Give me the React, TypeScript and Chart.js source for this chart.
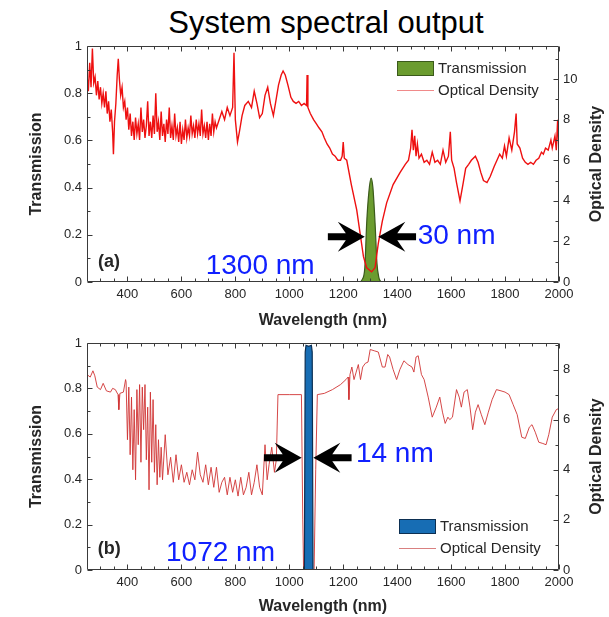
import React, { useEffect, useRef } from 'react';
import { Chart, registerables } from 'chart.js';

Chart.register(...registerables);

const FONT = "'Liberation Sans', Arial, Helvetica, sans-serif";
const AXIS_COLOR = '#3a3a3a';
const TEXT_COLOR = '#262626';

// ---------- shared ticks ----------
const xTicks = [400, 600, 800, 1000, 1200, 1400, 1600, 1800, 2000];
const xMinorTicks = [300, 350, 450, 500, 550, 650, 700, 750, 850, 900, 950, 1050, 1100, 1150, 1250, 1300, 1350, 1450, 1500, 1550, 1650, 1700, 1750, 1850, 1900, 1950];
const transTicks = [0, 0.2, 0.4, 0.6, 0.8, 1];
const transMinorTicks = [0.1, 0.3, 0.5, 0.7, 0.9];
const odTicksA = [0, 2, 4, 6, 8, 10];
const odMinorTicksA = [1, 3, 5, 7, 9, 11];
const odTicksB = [0, 2, 4, 6, 8];
const odMinorTicksB = [1, 3, 5, 7, 9];

// ---------- panel (a): 1300 nm ----------
const wavelengthA = [
  250, 255, 260, 265, 270, 275, 280, 285, 290, 295, 300, 305, 310, 315, 320, 325, 330, 335, 340, 345,
  348, 352, 357, 362, 366, 370, 375, 380, 385, 390, 395, 400, 405, 410, 415, 420, 425, 430, 435, 440,
  445, 450, 455, 460, 465, 470, 475, 480, 485, 490, 495, 500, 505, 510, 515, 520, 525, 530, 535, 540,
  545, 550, 555, 560, 565, 570, 575, 580, 585, 590, 595, 600, 605, 610, 615, 620, 625, 630, 635, 640,
  645, 650, 655, 660, 665, 670, 675, 680, 685, 690, 695, 700, 705, 710, 715, 720, 725, 730, 740, 750,
  760, 770, 780, 790, 795, 800, 808, 815, 825, 835, 848, 860, 870, 880, 890, 900, 910, 920, 930, 941,
  950, 960, 970, 977, 985, 995, 1006, 1015, 1025, 1035, 1045, 1055, 1064, 1066, 1069, 1078, 1090, 1100, 1110, 1121,
  1130, 1140, 1150, 1160, 1170, 1180, 1190, 1196, 1200, 1204, 1213, 1230, 1250, 1275, 1287, 1305, 1318, 1330, 1345, 1361,
  1385, 1411, 1430, 1442, 1450, 1455, 1460, 1465, 1470, 1475, 1481, 1490, 1500, 1510, 1520, 1530, 1540, 1550, 1560, 1570,
  1580, 1590, 1597, 1602, 1611, 1620, 1633, 1645, 1654, 1665, 1675, 1690, 1700, 1710, 1720, 1733, 1745, 1760, 1770, 1780,
  1790, 1798, 1805, 1815, 1825, 1835, 1841, 1845, 1855, 1865, 1875, 1885, 1895, 1905, 1915, 1925, 1935, 1942, 1950, 1960,
  1970, 1975, 1985, 1990, 1995, 2000,
];
const odA = [
  10.2, 9.4, 10.8, 9.6, 11.5, 9.8, 10.1, 9.2, 9.9, 9.0, 9.6, 8.8, 9.3, 8.6, 9.4, 8.3, 8.9, 7.9, 8.5, 7.4,
  6.3, 7.9, 8.8, 10.2, 11.0, 10.0, 9.2, 9.6, 8.6, 8.9, 8.0, 8.6, 7.5, 8.3, 7.2, 7.9, 7.0, 8.1, 7.3, 7.8,
  7.0, 8.6, 7.4, 8.0, 7.1, 7.7, 8.9, 7.2, 7.9, 7.1, 8.2, 7.3, 9.3, 7.4, 7.9, 7.0, 8.4, 7.2, 7.8, 6.9,
  8.0, 7.3, 8.6, 7.1, 7.7, 7.0, 8.3, 7.2, 7.6, 6.9, 7.9, 6.8, 7.5, 7.0, 8.0, 7.1, 7.6, 7.2, 8.2, 7.3,
  7.7, 7.1, 8.0, 7.3, 7.8, 7.2, 8.5, 7.3, 7.7, 7.1, 7.9, 7.0, 7.8, 7.2, 8.3, 7.4, 7.9, 7.6, 8.0, 8.4,
  8.0, 8.6, 8.2, 8.6, 11.3, 8.0, 6.9, 7.4, 8.2, 8.7, 8.9, 8.6, 9.4, 8.8, 8.1, 8.3, 9.2, 9.6, 8.8, 8.2,
  8.9, 9.7, 10.2, 10.4, 10.2, 9.7, 9.1, 8.9, 8.8, 8.9, 8.7, 8.8, 8.7, 10.2, 8.6, 8.3, 8.0, 7.8, 7.6, 7.4,
  7.1, 6.8, 6.6, 6.3, 6.2, 6.0, 6.0, 6.2, 6.9, 6.1, 6.0, 4.8, 3.55, 1.25, 0.7, 0.5, 0.7, 1.9, 3.0, 3.9,
  4.8, 5.4, 5.8, 6.0, 6.6, 7.5, 6.5, 7.2, 6.2, 6.8, 6.1, 6.3, 5.9, 6.0, 5.8, 6.4, 5.9, 6.0, 5.8, 6.5,
  5.9, 6.2, 7.4, 6.0, 5.6, 4.9, 4.0, 4.9, 5.6, 5.8, 6.0, 6.2, 5.9, 5.4, 5.0, 4.9, 5.2, 5.7, 6.0, 6.3,
  6.1, 6.7, 6.2, 7.1, 6.5, 7.4, 8.3, 6.8, 6.6, 6.1, 5.9, 5.8, 5.9, 5.8, 6.0, 6.1, 6.4, 6.3, 6.6, 6.5,
  7.0, 6.6, 7.2, 6.5, 8.0, 6.4,
];
const transWavelengthA = [1262, 1270, 1280, 1287, 1295, 1303, 1310, 1318, 1325, 1332, 1340];
const transA = [0, 0.01, 0.06, 0.25, 0.38, 0.44, 0.4, 0.25, 0.08, 0.02, 0];

// ---------- panel (b): 1072 nm ----------
const wavelengthB = [
  250, 262, 272, 279, 288, 300, 310, 322, 337, 345, 355, 365, 368, 372, 385, 393, 395, 400, 405, 410,
  415, 420, 425, 430, 435, 440, 445, 450, 455, 460, 465, 470, 475, 480, 485, 490, 495, 500, 505, 510,
  515, 520, 525, 530, 540, 550, 560, 570, 580, 590, 600, 610, 620, 630, 640, 650, 660, 670, 680, 690,
  700, 710, 720, 730, 740, 750, 760, 770, 780, 790, 800, 810, 820, 830, 840, 850, 860, 870, 880, 890,
  900, 910, 918, 925, 935, 945, 952, 958, 1000, 1045, 1050, 1053, 1092, 1098, 1104, 1130, 1160, 1190, 1210, 1218,
  1221, 1225, 1232, 1240, 1248, 1256, 1264, 1272, 1282, 1292, 1300, 1315, 1330, 1345, 1355, 1365, 1372, 1385, 1398, 1410,
  1425, 1440, 1455, 1462, 1470, 1478, 1490, 1500, 1515, 1530, 1545, 1558, 1568, 1578, 1588, 1595, 1605, 1620, 1630, 1638,
  1648, 1660, 1670, 1680, 1690, 1700, 1712, 1725, 1738, 1752, 1768, 1785, 1800, 1815, 1830, 1845, 1862, 1875, 1890, 1900,
  1912, 1925, 1940, 1952, 1962, 1975, 1990, 2000,
];
const odB = [
  7.8, 7.7, 7.95, 7.75, 7.3, 7.2, 7.45, 7.15, 7.1, 7.25, 7.2, 7.0, 6.4, 7.05, 7.1, 7.6, 7.5, 5.2, 7.3, 4.6,
  6.9, 4.0, 6.4, 3.6, 7.2, 5.0, 7.4, 4.3, 7.3, 5.6, 7.4, 4.4, 6.5, 3.2, 7.1, 4.3, 6.8, 3.9, 5.8, 3.4,
  5.2, 3.7, 4.9, 3.6, 5.4, 3.8, 4.5, 3.5, 4.6, 3.6, 4.2, 3.5, 3.9, 3.4, 4.0, 3.6, 4.7, 3.8, 3.5, 4.2,
  3.4, 4.1, 3.3, 4.1, 3.1, 3.5, 3.7, 3.0, 3.7, 3.1, 3.6, 2.95, 3.7, 3.0, 3.3, 3.9, 3.0, 3.5, 4.2, 3.3,
  3.0, 5.0, 3.6, 4.2, 4.9, 3.9, 4.4, 7.0, 7.0, 7.0, 2.0, 0, 0, 4.0, 7.0, 7.05, 7.2, 7.4, 7.6, 7.7,
  6.8, 7.8, 8.1, 7.6, 7.9, 8.2, 7.6, 8.1, 8.25, 8.3, 8.8, 8.75, 8.7, 8.1, 8.1, 8.6, 8.5, 8.0, 7.6, 8.0,
  8.35, 8.2, 8.1, 7.9, 8.5, 8.55, 7.8, 7.6, 6.9, 6.1, 6.5, 6.9, 6.3, 5.85, 6.1, 6.0, 6.1, 7.2, 6.9, 6.5,
  7.1, 7.2, 6.5, 5.6, 6.3, 6.6, 6.2, 5.8, 6.3, 6.8, 7.2, 7.15, 7.1, 7.0, 6.6, 6.2, 5.3, 5.25, 5.7, 5.8,
  5.5, 5.1, 5.05, 5.0, 5.4, 6.1, 6.4, 6.45,
];
const transWavelengthB = [1056, 1059, 1062, 1072, 1082, 1085, 1088];
const transB = [0, 0.96, 0.99, 0.985, 0.99, 0.96, 0];

type Arrow = { tail: number; tip: number; at: number };
type Label = { text: string; x: number; y: number; size: number; bold?: boolean; color: string };

type Panel = {
  odX: number[];
  odY: number[];
  trX: number[];
  trY: number[];
  odMax: number;
  odTicks: number[];
  odMinor: number[];
  odColor: string;
  odWidth: number;
  legendOdColor: string;
  trFill: string;
  trBorder: string;
  monotone: boolean;
  trOnTop: boolean;
  padTop: number;
  xAxisHeight: number;
  xTitlePad: number;
  legendDx: number;
  legendFromBottom: boolean;
  legendDy: number;
  arrows: Arrow[];
  labels: Label[];
};

function drawArrow(ctx: CanvasRenderingContext2D, xTail: number, xTip: number, y: number) {
  const d = xTip > xTail ? 1 : -1;
  const headLen = 27;
  const notch = 19;
  const halfH = 15;
  const shaft = 3.5;
  ctx.beginPath();
  ctx.moveTo(xTip, y);
  ctx.lineTo(xTip - d * headLen, y - halfH);
  ctx.lineTo(xTip - d * notch, y - shaft);
  ctx.lineTo(xTail, y - shaft);
  ctx.lineTo(xTail, y + shaft);
  ctx.lineTo(xTip - d * notch, y + shaft);
  ctx.lineTo(xTip - d * headLen, y + halfH);
  ctx.closePath();
  ctx.fillStyle = '#000';
  ctx.fill();
}

function overlayPlugin(p: Panel) {
  return {
    id: 'overlay',
    afterDraw(chart: any) {
      const ctx: CanvasRenderingContext2D = chart.ctx;
      const { left, right, top, bottom } = chart.chartArea;
      const xs = chart.scales.x;
      const ys = chart.scales.y;
      const y2 = chart.scales.y2;
      const L = Math.round(left) + 0.5;
      const R = Math.round(right) - 0.5;
      const T = Math.round(top) + 0.5;
      const B = Math.round(bottom) - 0.5;
      ctx.save();
      ctx.strokeStyle = AXIS_COLOR;
      ctx.lineWidth = 1;
      ctx.beginPath();
      ctx.moveTo(L, T); ctx.lineTo(R, T); ctx.lineTo(R, B); ctx.lineTo(L, B); ctx.closePath();
      const xt = (v: number, len: number) => {
        const px = Math.round(xs.getPixelForValue(v)) + 0.5;
        ctx.moveTo(px, B); ctx.lineTo(px, B - len);
        ctx.moveTo(px, T); ctx.lineTo(px, T + len);
      };
      xTicks.forEach((v) => xt(v, 5));
      xMinorTicks.forEach((v) => xt(v, 3));
      const yt = (v: number, len: number) => {
        const py = Math.round(ys.getPixelForValue(v)) + 0.5;
        ctx.moveTo(L, py); ctx.lineTo(L + len, py);
      };
      transTicks.forEach((v) => yt(v, 5));
      transMinorTicks.forEach((v) => yt(v, 3));
      const rt = (v: number, len: number) => {
        const py = Math.round(y2.getPixelForValue(v)) + 0.5;
        ctx.moveTo(R, py); ctx.lineTo(R - len, py);
      };
      p.odTicks.forEach((v) => rt(v, 5));
      p.odMinor.forEach((v) => rt(v, 3));
      ctx.stroke();

      // right axis title
      ctx.save();
      ctx.translate(597, (top + bottom) / 2);
      ctx.rotate(-Math.PI / 2);
      ctx.font = `bold 16px ${FONT}`;
      ctx.fillStyle = TEXT_COLOR;
      ctx.textAlign = 'center';
      ctx.textBaseline = 'middle';
      ctx.fillText('Optical Density', 0, 0);
      ctx.restore();

      // legend
      const lx = right - p.legendDx;
      const ly = p.legendFromBottom ? bottom - p.legendDy : top + p.legendDy;
      ctx.fillStyle = p.trFill;
      ctx.fillRect(lx, ly, 37, 15);
      ctx.strokeStyle = p.trBorder;
      ctx.lineWidth = 1;
      ctx.strokeRect(lx + 0.5, ly + 0.5, 36, 14);
      ctx.strokeStyle = p.legendOdColor;
      ctx.beginPath();
      ctx.moveTo(lx, ly + 29.5);
      ctx.lineTo(lx + 37, ly + 29.5);
      ctx.stroke();
      ctx.font = `15px ${FONT}`;
      ctx.fillStyle = TEXT_COLOR;
      ctx.textAlign = 'left';
      ctx.textBaseline = 'middle';
      ctx.fillText('Transmission', lx + 41, ly + 8);
      ctx.fillText('Optical Density', lx + 41, ly + 30);

      p.arrows.forEach((a) => {
        drawArrow(ctx, xs.getPixelForValue(a.tail), xs.getPixelForValue(a.tip), ys.getPixelForValue(a.at));
      });
      p.labels.forEach((lb) => {
        ctx.font = `${lb.bold ? 'bold ' : ''}${lb.size}px ${FONT}`;
        ctx.fillStyle = lb.color;
        ctx.textAlign = 'left';
        ctx.textBaseline = 'middle';
        ctx.fillText(lb.text, xs.getPixelForValue(lb.x), ys.getPixelForValue(lb.y));
      });
      ctx.restore();
    },
  };
}

function buildConfig(p: Panel): any {
  const tickFont = { family: FONT, size: 13 };
  const odData = p.odX.map((x, i) => ({ x, y: p.odY[i] }));
  const trData = p.trX.map((x, i) => ({ x, y: p.trY[i] }));
  return {
    type: 'line',
    data: {
      datasets: [
        {
          label: 'Transmission',
          data: trData,
          yAxisID: 'y',
          borderColor: p.trBorder,
          backgroundColor: p.trFill,
          borderWidth: 1.2,
          pointRadius: 0,
          fill: 'origin',
          cubicInterpolationMode: p.monotone ? 'monotone' : 'default',
          order: p.trOnTop ? 0 : 1,
        },
        {
          label: 'Optical Density',
          data: odData,
          yAxisID: 'y2',
          borderColor: p.odColor,
          borderWidth: p.odWidth,
          pointRadius: 0,
          fill: false,
          tension: 0,
          order: p.trOnTop ? 1 : 0,
        },
      ],
    },
    options: {
      animation: false,
      responsive: false,
      events: [],
      layout: { padding: { top: p.padTop, left: 0, right: 0, bottom: 0 } },
      plugins: { legend: { display: false }, tooltip: { enabled: false }, title: { display: false } },
      scales: {
        x: {
          type: 'linear',
          min: 250,
          max: 2000,
          afterBuildTicks: (s: any) => { s.ticks = xTicks.map((v) => ({ value: v })); },
          afterFit: (s: any) => { s.height = p.xAxisHeight; },
          ticks: { font: tickFont, color: TEXT_COLOR, padding: 5, maxRotation: 0, autoSkip: false, callback: (v: any) => String(v) },
          grid: { display: false, drawTicks: false },
          border: { display: false },
          title: {
            display: true,
            text: 'Wavelength (nm)',
            color: TEXT_COLOR,
            font: { family: FONT, size: 16, weight: 'bold' },
            padding: { top: 0, bottom: p.xTitlePad },
          },
        },
        y: {
          type: 'linear',
          position: 'left',
          min: 0,
          max: 1,
          afterBuildTicks: (s: any) => { s.ticks = transTicks.map((v) => ({ value: v })); },
          afterFit: (s: any) => { s.width = 87; },
          ticks: { font: tickFont, color: TEXT_COLOR, padding: 5, callback: (v: any) => String(v) },
          grid: { display: false, drawTicks: false },
          border: { display: false },
          title: {
            display: true,
            text: 'Transmission',
            color: TEXT_COLOR,
            font: { family: FONT, size: 16, weight: 'bold' },
            padding: { top: 27, bottom: 0 },
          },
        },
        y2: {
          type: 'linear',
          position: 'right',
          min: 0,
          max: p.odMax,
          afterBuildTicks: (s: any) => { s.ticks = p.odTicks.map((v) => ({ value: v })); },
          afterFit: (s: any) => { s.width = 50; },
          ticks: { font: tickFont, color: TEXT_COLOR, padding: 4, callback: (v: any) => String(v) },
          grid: { display: false, drawTicks: false },
          border: { display: false },
          title: { display: false },
        },
      },
    },
    plugins: [overlayPlugin(p)],
  };
}

const panelA: Panel = {
  odX: wavelengthA,
  odY: odA,
  trX: transWavelengthA,
  trY: transA,
  odMax: 11.63,
  odTicks: odTicksA,
  odMinor: odMinorTicksA,
  odColor: '#ee1010',
  odWidth: 1.4,
  legendOdColor: '#f08a8a',
  trFill: '#6b9c2f',
  trBorder: '#3b5a1b',
  monotone: true,
  trOnTop: false,
  padTop: 46,
  xAxisHeight: 53,
  xTitlePad: 5,
  legendDx: 162,
  legendFromBottom: false,
  legendDy: 15,
  arrows: [
    { tail: 1143, tip: 1280, at: 0.192 },
    { tail: 1470, tip: 1330, at: 0.192 },
  ],
  labels: [
    { text: '30 nm', x: 1476, y: 0.195, size: 28, color: '#1020ff' },
    { text: '1300 nm', x: 690, y: 0.065, size: 28, color: '#1020ff' },
    { text: '(a)', x: 291, y: 0.086, size: 18, bold: true, color: TEXT_COLOR },
  ],
};

const panelB: Panel = {
  odX: wavelengthB,
  odY: odB,
  trX: transWavelengthB,
  trY: transB,
  odMax: 9.06,
  odTicks: odTicksB,
  odMinor: odMinorTicksB,
  odColor: 'rgba(208,52,52,0.9)',
  odWidth: 1,
  legendOdColor: '#d98080',
  trFill: '#176db4',
  trBorder: '#0c2f52',
  monotone: false,
  trOnTop: true,
  padTop: 13,
  xAxisHeight: 47,
  xTitlePad: 1,
  legendDx: 160,
  legendFromBottom: true,
  legendDy: 51,
  arrows: [
    { tail: 906, tip: 1046, at: 0.494 },
    { tail: 1231, tip: 1089, at: 0.494 },
  ],
  labels: [
    { text: '14 nm', x: 1247, y: 0.51, size: 28, color: '#1020ff' },
    { text: '1072 nm', x: 543, y: 0.075, size: 28, color: '#1020ff' },
    { text: '(b)', x: 290, y: 0.092, size: 18, bold: true, color: TEXT_COLOR },
  ],
};

export default function App() {
  const refA = useRef<HTMLCanvasElement>(null);
  const refB = useRef<HTMLCanvasElement>(null);
  useEffect(() => {
    const a = new Chart(refA.current as HTMLCanvasElement, buildConfig(panelA));
    const b = new Chart(refB.current as HTMLCanvasElement, buildConfig(panelB));
    return () => {
      a.destroy();
      b.destroy();
    };
  }, []);
  return (
    <div style={{ position: 'fixed', left: 0, top: 0, width: 609, height: 617, background: '#fff', overflow: 'hidden' }}>
      <div
        style={{
          position: 'absolute',
          left: 0,
          top: 7,
          width: 652,
          textAlign: 'center',
          fontFamily: FONT,
          fontSize: 31,
          lineHeight: '31px',
          color: '#000',
          whiteSpace: 'nowrap',
        }}
      >
        System spectral output
      </div>
      <canvas ref={refA} width={609} height={335} style={{ position: 'absolute', left: 0, top: 0, width: 609, height: 335 }} />
      <canvas ref={refB} width={609} height={287} style={{ position: 'absolute', left: 0, top: 330, width: 609, height: 287 }} />
    </div>
  );
}
